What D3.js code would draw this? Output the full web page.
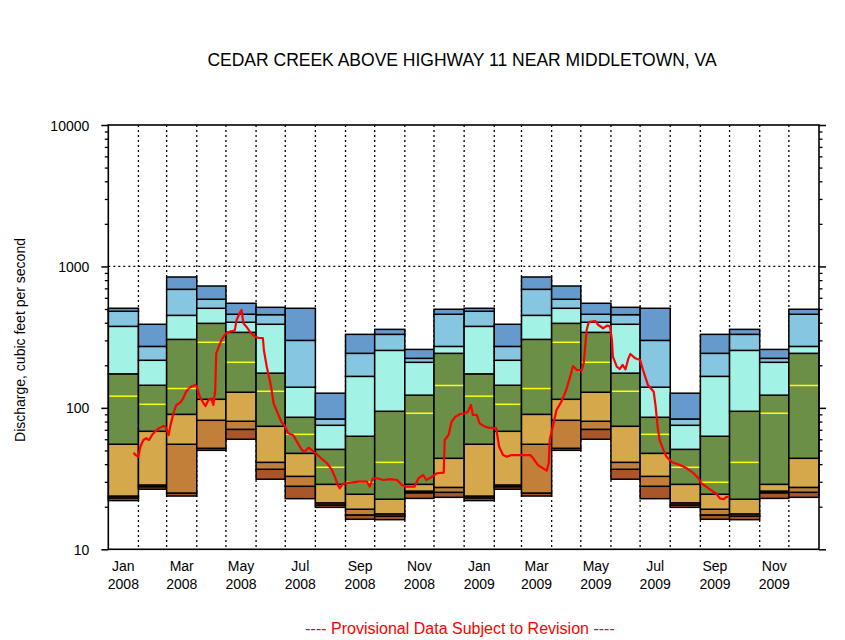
<!DOCTYPE html>
<html><head><meta charset="utf-8">
<script src="https://cdn.jsdelivr.net/npm/d3@7"></script>
<style>body{margin:0;background:#fff}svg{display:block}</style>
</head><body><svg id="chart" width="845" height="640"></svg>
<script>
// ---- data ----
const title = "CEDAR CREEK ABOVE HIGHWAY 11 NEAR MIDDLETOWN, VA";
const yLabel = "Discharge, cubic feet per second";
const footer = "---- Provisional Data Subject to Revision ----";
const years = [2008, 2009];
const monthNames = ["Jan","Feb","Mar","Apr","May","Jun","Jul","Aug","Sep","Oct","Nov","Dec"];
const labelMonths = [0, 2, 4, 6, 8, 10];
const yTickValues = [10, 100, 1000, 10000];

// monthly percentile statistics (cfs), Jan..Dec
const statMin = [22.1, 26.6, 23.8, 50.1, 60, 31.3, 22.8, 19.8, 16.3, 16.2, 22.9, 23.3];
const statP05 = [23.1, 27.7, 25.0, 51.8, 70.5, 36.8, 27.9, 20.6, 17.5, 17.2, 25.1, 25.3];
const statP10 = [23.8, 28.5, 55.3, 81.7, 80.4, 41.2, 32.8, 21.3, 19.2, 17.8, 25.8, 27.4];
const statP25 = [55.3, 68.3, 90, 115, 129, 74.1, 47.7, 28.8, 24.5, 22.6, 28.8, 44];
const statP50 = [121, 106, 137, 291, 210, 131, 65, 38.0, 29.8, 41.2, 91.6, 144];
const statP75 = [174, 144.5, 305, 396, 342, 176, 85.8, 50.9, 63, 94.6, 123, 243];
const statP90 = [377, 217, 451, 506, 403, 390, 140, 75.3, 167, 255, 210, 272];
const statP95 = [482, 272, 689, 586, 459, 456, 300, 83.4, 243, 331, 224, 459];
const statMax = [506, 390, 842, 727, 549, 514, 506, 127, 331, 359, 259, 498];

// daily discharge readings: day offset from 2008-01-01, value in cfs
const flowDay = [26,28,31,33,36,39,42,45,48,52,57,59,62,64,67,70,74,77,80,84,89,91,94,98,100,103,106,108,110,111,
  115,118,121,125,130,132,135,137,139,142,147,151,155,159,160,163,166,168,170,175,178,182,185,190,194,199,202,206,209,214,
  219,225,230,233,236,238,241,245,249,257,266,269,272,276,283,290,297,302,307,315,319,324,327,333,338,345,346,350,353,357,
  362,367,370,373,375,379,382,386,391,399,402,406,410,415,425,434,437,442,447,451,453,454,458,461,466,471,475,478,482,487,
  489,492,494,495,501,504,509,513,516,518,519,523,526,529,532,535,537,542,547,550,555,561,563,565,567,571,574,580,588,595,
  602,607,610,615,621,626,629,633,636,638];
const flowCfs = [48.2,46.4,45.2,53.1,59.3,60.9,59.3,64.3,67.9,71.7,74.5,72.9,64.3,75.7,91.6,104.8,108.9,116.9,130,139.8,
  145.2,142,120,107.7,103,113.7,116.5,104.8,133.7,243,286,315.5,336.5,345.6,351.5,418,466.6,492,396,375,
  336.5,318.6,312,312,256.6,195.5,157.4,133.7,107.7,89.1,79.8,73.6,66.1,64.3,57.7,50.4,49,52.3,50.4,47.2,
  44,40.6,36.4,32.6,28.5,27,29,29.3,29.6,30.1,30.1,27.7,31.8,31.8,30.9,31.3,30.9,28.5,27.7,27.7,
  31.8,33.5,30.9,32.6,34.5,34.8,59.3,64.3,79.8,86.6,90.5,91.6,94,104.8,89.1,89.1,77.8,74.5,72.4,71.7,
  53.1,46.4,45.2,46.4,46.4,46.4,44,39.4,37.4,36,40.6,59.3,77.8,96.6,110.6,133.7,166,197.7,185.3,185.3,
  206.6,355.5,400,406.5,411,385.5,365.4,381,378.5,302,230,195.5,188.3,201,187.5,224,240.4,224,218,185.3,
  145.2,130,101.9,73.6,59.3,50.4,45.2,41.2,39.4,37.4,34.5,31.8,29.3,27.7,25.9,24.5,22.9,22.6,23.5,23.5];

// ---- chart ----
const svg = d3.select("#chart");
const pLeft = 108.3, pRight = 819, pTop = 125, pBottom = 549.3;
const font = "Arial, 'Liberation Sans', Helvetica, sans-serif";

const x = d3.scaleTime().domain([new Date(2008,0,1), new Date(2010,0,1)]).range([pLeft, pRight]);
const y = d3.scaleLog().domain([10, 10000]).range([pBottom, pTop]);

const bandColors = ["#a9562a", "#c27f3a", "#d4a84b", "#6b8f47", "#a3f2e6", "#87c6e0", "#6699cc"];
const bounds = [statMin, statP05, statP10, statP25, statP75, statP90, statP95, statMax];

// gridlines (dotted)
const grid = svg.append("g").attr("stroke", "#000").attr("stroke-width", 1.3).attr("stroke-dasharray", "2,3");
const monthStarts = d3.timeMonth.range(new Date(2008,1,1), new Date(2010,0,1));
grid.selectAll("line.v").data(monthStarts).join("line")
  .attr("x1", d => x(d)).attr("x2", d => x(d)).attr("y1", pTop).attr("y2", pBottom);
grid.selectAll("line.h").data([100, 1000]).join("line")
  .attr("x1", pLeft).attr("x2", pRight).attr("y1", d => y(d)).attr("y2", d => y(d));

// monthly bands
const cols = [];
years.forEach(yr => monthNames.forEach((mn, m) => cols.push({yr, m})));
const bandG = svg.append("g");
cols.forEach(c => {
  const x0 = x(new Date(c.yr, c.m, 1)), x1 = x(new Date(c.yr, c.m + 1, 1));
  for (let b = 0; b < 7; b++) {
    const lo = bounds[b][c.m], hi = bounds[b + 1][c.m];
    bandG.append("rect")
      .attr("x", x0).attr("width", x1 - x0)
      .attr("y", y(hi)).attr("height", y(lo) - y(hi))
      .attr("fill", bandColors[b]).attr("stroke", "#000").attr("stroke-width", 1.5);
  }
  bandG.append("line")
    .attr("x1", x0 + 1).attr("x2", x1 - 1)
    .attr("y1", y(statP50[c.m])).attr("y2", y(statP50[c.m]))
    .attr("stroke", "#ffff00").attr("stroke-width", 1.5);
});

// daily flow line
const flow = flowDay.map((d, i) => ({date: new Date(2008, 0, 1 + d), v: flowCfs[i]}));
svg.append("path").datum(flow)
  .attr("fill", "none").attr("stroke", "#ff0000").attr("stroke-width", 2.2)
  .attr("stroke-linejoin", "round")
  .attr("d", d3.line().x(d => x(d.date)).y(d => y(d.v)));

// frame
svg.append("rect").attr("x", pLeft).attr("y", pTop).attr("width", pRight - pLeft).attr("height", pBottom - pTop)
  .attr("fill", "none").attr("stroke", "#000").attr("stroke-width", 1.6);

// y axis ticks both sides
const minor = [];
[10, 100, 1000].forEach(k => { for (let i = 2; i <= 9; i++) minor.push(k * i); });
const yAxisL = d3.axisLeft(y).tickValues(yTickValues).tickFormat(d3.format("d")).tickSize(7).tickPadding(12);
const gL = svg.append("g").attr("transform", `translate(${pLeft},0)`).call(yAxisL);
gL.select(".domain").remove();
gL.selectAll("line").attr("stroke-width", 1.5);
gL.selectAll("text").attr("font-family", font).attr("font-size", 14).attr("fill", "#000").attr("dy", "0.36em");
const gLm = svg.append("g").attr("transform", `translate(${pLeft},0)`)
  .call(d3.axisLeft(y).tickValues(minor).tickFormat("").tickSize(3.5));
gLm.select(".domain").remove();
gLm.selectAll("line").attr("stroke-width", 1.3);

const gR = svg.append("g").attr("transform", `translate(${pRight},0)`)
  .call(d3.axisRight(y).tickValues(yTickValues).tickFormat("").tickSize(7));
gR.select(".domain").remove();
gR.selectAll("line").attr("stroke-width", 1.5);
const gRm = svg.append("g").attr("transform", `translate(${pRight},0)`)
  .call(d3.axisRight(y).tickValues(minor).tickFormat("").tickSize(3.5));
gRm.select(".domain").remove();
gRm.selectAll("line").attr("stroke-width", 1.3);

// x labels
const xl = [];
years.forEach(yr => labelMonths.forEach(m => xl.push({yr, m})));
const xlG = svg.append("g").attr("font-family", font).attr("font-size", 14).attr("text-anchor", "middle");
xl.forEach(d => {
  const cx = (x(new Date(d.yr, d.m, 1)) + x(new Date(d.yr, d.m + 1, 1))) / 2;
  const t = xlG.append("text").attr("x", cx).attr("y", 571);
  t.append("tspan").attr("x", cx).text(monthNames[d.m]);
  t.append("tspan").attr("x", cx).attr("dy", 17.5).text(d.yr);
});

// titles
svg.append("text").attr("x", 462).attr("y", 66).attr("text-anchor", "middle")
  .attr("font-family", font).attr("font-size", 17.5).text(title);
svg.append("text").attr("transform", "translate(25,340) rotate(-90)").attr("text-anchor", "middle")
  .attr("font-family", font).attr("font-size", 14).text(yLabel);
svg.append("text").attr("x", 460).attr("y", 634).attr("text-anchor", "middle")
  .attr("font-family", font).attr("font-size", 16).attr("fill", "#ff0000").text(footer);
</script></body></html>
